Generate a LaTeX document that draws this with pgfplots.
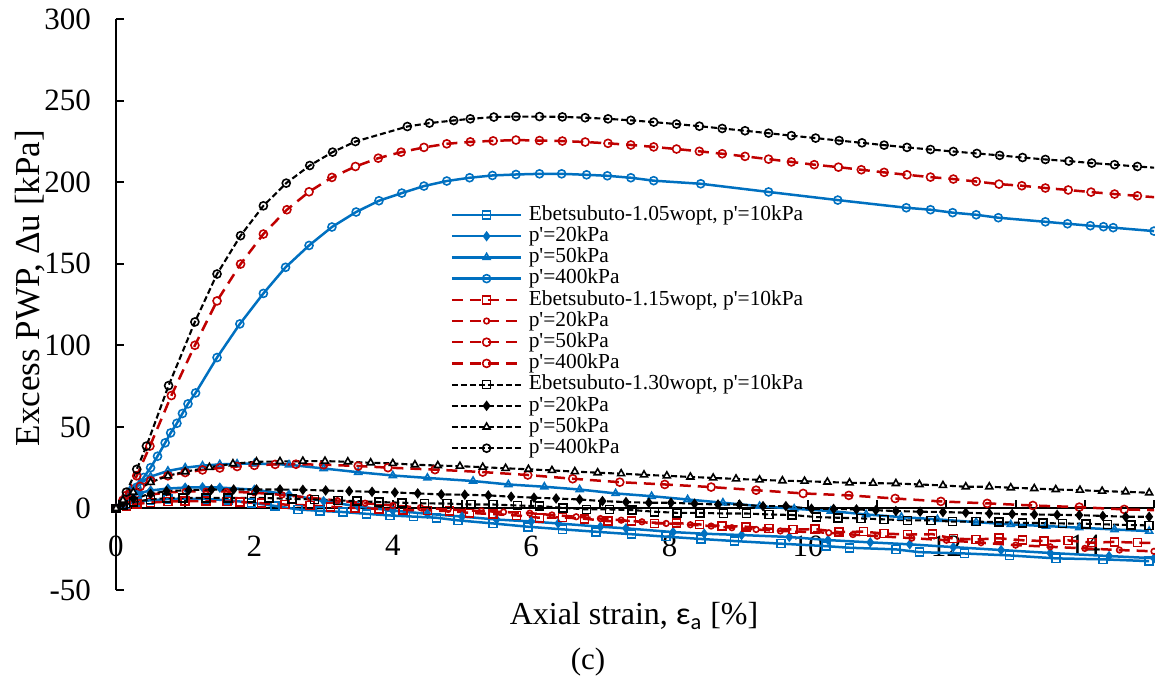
\documentclass[border=0pt]{standalone}
\usepackage{pgfplots}
\pgfplotsset{compat=1.18}
\usepackage{fontspec}
\setmainfont{Liberation Serif}
\newfontfamily\carlito{Carlito}
\definecolor{bl}{HTML}{0070C0}
\definecolor{rd}{HTML}{C00000}
\newcommand\q{\textquotesingle}
\pgfplotsset{
  blS/.style={color=bl, line width=1.25pt, solid, mark options={solid, fill=white, line width=0.8pt}},
  rdS/.style={color=rd, line width=1.25pt, dash pattern=on 5.5pt off 3.5pt, mark options={solid, fill=white, line width=0.8pt}},
  bkS/.style={color=black, line width=1.05pt, dash pattern=on 3pt off 1.5pt, mark options={solid, fill=white, line width=0.8pt}},
}
\begin{document}
\begin{tikzpicture}
\useasboundingbox (-58pt,-46pt) rectangle (519.5pt,295pt);
\begin{axis}[
  scale only axis, width=519pt, height=285.5pt,
  xmin=0, xmax=15, ymin=-50, ymax=300,
  axis y line=left, axis x line=middle,
  axis line style={line width=1pt, -},
  hide obscured x ticks=false, hide obscured y ticks=false,
  xtick={0,2,...,14}, minor xtick={1,3,...,15},
  ytick={-50,0,50,...,300},
  xtick align=inside, ytick align=inside,
  major tick length=4pt, minor tick length=4pt,
  tick style={line width=1pt, black},
  ticklabel style={font=\fontsize{15.5}{16}\selectfont},
  /pgf/number format/assume math mode=true,
  xticklabel style={yshift=-10pt},
  yticklabel style={xshift=-9pt},
  legend cell align=left,
  legend style={draw=none, fill=none, at={(rel axis cs:0.322,0.676)}, anchor=north west,
    font=\fontsize{10.7}{10.7}\selectfont, row sep=0pt, inner sep=0pt, column sep=2.5pt,
    nodes={inner sep=0.6pt, text height=7.3pt, text depth=2.1pt}},
  legend image code/.code={\draw[mark repeat=2,mark phase=2] plot coordinates {(0cm,0cm) (0.61cm,0cm) (1.22cm,0cm)};},
  clip=true,
]
% ---- blue, 1.05wopt ----
\addplot[blS, mark=square, mark size=2pt] coordinates {
(0,0) (0.15,2.5) (0.3,4) (0.5,5) (0.75,5.7) (0.97,6) (1.3,5.8) (1.62,5) (1.96,3.5) (2.3,1.5) (2.63,-0.6) (2.95,-1.5) (3.28,-2.2) (3.62,-3.3) (3.96,-4.3) (4.3,-5) (4.63,-5.7) (4.94,-7.3) (5.45,-9.2) (5.95,-11.2) (6.45,-12.8) (6.94,-14.3) (7.45,-15.8) (7.95,-17.3) (8.45,-18.7) (8.94,-20) (9.61,-21.6) (10.26,-23.1) (10.6,-24.1) (11.27,-25.1) (11.61,-26.8) (12.26,-27.6) (12.91,-28.8) (13.58,-30.6) (14.26,-31.2) (14.93,-32.3)};
\addlegendentry{Ebetsubuto-1.05wopt, p\q=10kPa}
\addplot[blS, mark=diamond*, mark size=1.6pt, mark options={solid,fill=bl}] coordinates {
(0,0) (0.1,4) (0.2,7) (0.35,9.5) (0.5,11) (0.75,12.2) (1,12.8) (1.25,13) (1.5,12.8) (2,11.5) (2.5,8.5) (3,4.5) (3.5,1.2) (4,-1.3) (4.5,-3.3) (5,-5) (5.5,-6.8) (6,-8) (6.39,-9.2) (7,-11.2) (7.37,-12.2) (8.05,-14.5) (8.5,-15.5) (9.04,-16.3) (9.73,-17.5) (10.29,-19.4) (10.9,-20.8) (11.47,-22) (12.1,-23.7) (12.79,-25.5) (13.5,-27.3) (14.35,-29.2) (15,-30.5)};
\addlegendentry{p\q=20kPa}
\addplot[blS, mark=triangle, mark size=2pt] coordinates {
(0,0) (0.1,6) (0.2,11) (0.35,16) (0.5,19.5) (0.75,23) (1,25) (1.25,26.2) (1.5,27) (1.75,27.4) (2,27.5) (2.5,26.8) (3,24.5) (3.5,22.2) (4,20.2) (4.5,18.7) (5.16,16.8) (5.67,14.7) (6.19,13.3) (6.70,11.6) (7.22,9.2) (7.74,7.5) (8.26,5.5) (8.77,3.5) (9.30,1.4) (9.80,-0.2) (10.33,-1.6) (10.84,-3.7) (11.35,-5.3) (11.87,-6.7) (12.43,-8.4) (12.93,-9.8) (13.44,-10.8) (13.92,-11.8) (14.43,-12.9) (14.93,-13.9)};
\addlegendentry{p\q=50kPa}
\addplot[blS, mark=o, mark size=2pt] coordinates {
(0,0) (0.1,3) (0.2,8) (0.3,13) (0.4,19) (0.5,25) (0.6,32) (0.71,40.2) (0.79,46.3) (0.88,52.2) (0.96,58.2) (1.04,64.1) (1.15,70.8) (1.46,92.5) (1.79,113.1) (2.13,131.8) (2.45,147.8) (2.79,161.2) (3.12,172.5) (3.47,181.7) (3.80,188.6) (4.13,193.3) (4.45,197.6) (4.78,200.7) (5.11,202.7) (5.44,204.1) (5.78,204.7) (6.12,205.1) (6.44,205.1) (6.80,204.5) (7.10,203.9) (7.44,202.7) (7.77,200.9) (8.45,199) (9.43,194) (10.43,189) (11.42,184.3) (11.77,183.1) (12.09,181.3) (12.43,180) (12.75,178.2) (13.43,175.7) (13.75,174.5) (14.08,173.3) (14.27,172.7) (14.41,172.1) (15,170)};
\addlegendentry{p\q=400kPa}
% ---- red, 1.15wopt ----
\addplot[rdS, mark=square, mark size=2pt] coordinates {
(0,0) (0.15,1.5) (0.3,2.8) (0.5,3.6) (0.75,4.2) (1,4.5) (1.3,4.5) (1.6,4.2) (1.79,3.9) (2.1,3.2) (2.44,2.4) (2.80,1.8) (3.1,1) (3.45,0.3) (3.8,-0.3) (4.15,-0.9) (4.5,-1.2) (4.82,-1.6) (5.11,-2.7) (5.45,-3.5) (5.79,-4.3) (6.12,-5.7) (6.45,-5.5) (6.77,-6.3) (7.11,-7.8) (7.45,-7.6) (7.78,-9.2) (8.1,-9.0) (8.43,-9.8) (8.76,-10.8) (9.1,-11.2) (9.44,-12.4) (9.78,-12.9) (10.1,-12.7) (10.45,-14.5) (10.8,-14.2) (11.1,-15.4) (11.44,-16) (11.8,-15.8) (12.1,-18.5) (12.43,-19) (12.76,-18.3) (13.1,-19.5) (13.41,-20) (13.76,-19.6) (14.1,-21) (14.43,-20.5) (14.76,-21) (15.1,-21.3)};
\addlegendentry{Ebetsubuto-1.15wopt, p\q=10kPa}
\addplot[rdS, mark=o, mark size=1.4pt] coordinates {
(0,0) (0.1,3) (0.25,6) (0.5,8.5) (0.75,9.8) (1,10.4) (1.3,10.6) (1.6,10.4) (2,9.6) (2.4,8.3) (2.8,6.6) (3.2,4.8) (3.6,3.2) (4,1.8) (4.4,0.5) (4.8,-0.6) (5.28,-1.6) (5.6,-2.2) (5.98,-2.9) (6.3,-4) (6.65,-5.1) (7.0,-6.2) (7.30,-7.2) (7.6,-8.2) (7.95,-9.2) (8.3,-10) (8.60,-10.8) (8.9,-11.8) (9.25,-12.9) (9.6,-13.8) (10.3,-14.9) (10.65,-16) (11,-17) (11.5,-18.2) (12,-19.5) (12.5,-21) (13,-22.5) (13.5,-23.5) (14,-24.5) (14.5,-25.5) (15,-26.3)};
\addlegendentry{p\q=20kPa}
\addplot[rdS, mark=o, mark size=2pt] coordinates {
(0,0) (0.1,5) (0.2,9) (0.35,13.5) (0.5,17) (0.75,20) (1,22) (1.25,23.6) (1.5,24.8) (1.75,25.7) (2,26.4) (2.3,27) (2.6,27.1) (3,26.8) (3.5,26) (3.93,25) (4.61,23.8) (5.3,22.3) (5.95,20.5) (6.6,18.2) (7.28,16.1) (7.93,14.7) (8.60,13.1) (9.25,11.2) (9.93,9.2) (10.59,8.0) (11.26,6.1) (11.92,4.3) (12.59,3.1) (13.25,1.8) (13.92,0.8) (14.57,-0.6) (15.2,-1.2)};
\addlegendentry{p\q=50kPa}
\addplot[rdS, mark=o, mark size=2pt] coordinates {
(0,0) (0.15,8) (0.3,20) (0.49,38.2) (0.80,69.2) (1.14,100) (1.46,127.2) (1.80,149.8) (2.13,168.2) (2.47,183.1) (2.79,194.1) (3.12,202.9) (3.46,209.6) (3.79,214.7) (4.12,218.4) (4.45,221.3) (4.78,223.5) (5.12,224.7) (5.45,225.3) (5.78,225.8) (6.12,225.5) (6.45,225.2) (6.78,224.6) (7.11,223.8) (7.44,222.8) (7.77,221.6) (8.1,220.3) (8.43,218.9) (8.76,217.4) (9.09,215.8) (9.43,214.1) (9.76,212.4) (10.09,210.7) (10.44,209.2) (10.77,207.6) (11.10,206) (11.43,204.5) (11.77,203.1) (12.10,201.9) (12.43,200.4) (12.76,198.8) (13.09,197.8) (13.43,196.4) (13.76,195.2) (14.09,193.9) (14.43,192.7) (14.76,191.6) (15.09,190.5)};
\addlegendentry{p\q=400kPa}
% ---- black, 1.30wopt ----
\addplot[bkS, mark=square, mark size=2pt] coordinates {
(0,0) (0.1,2) (0.25,4) (0.5,5.5) (0.73,6.3) (0.97,6.5) (1.30,6.5) (1.62,6.5) (1.96,6.5) (2.21,6.3) (2.54,5.9) (2.87,5.5) (3.21,4.9) (3.48,4.5) (3.80,3.9) (4.13,3.5) (4.46,3.1) (4.78,3.0) (5.13,2.4) (5.45,2.4) (5.80,1.8) (6.12,1.4) (6.46,0.4) (6.80,-0.6) (7.13,-0.6) (7.46,-1.0) (7.78,-2.0) (8.11,-2.7) (8.44,-2.7) (8.78,-3.1) (9.11,-3.1) (9.44,-3.7) (9.77,-4.0) (10.12,-5.3) (10.43,-5.7) (10.77,-6.1) (11.10,-6.7) (11.44,-7.3) (11.78,-7.3) (12.09,-8.1) (12.43,-8.1) (12.76,-8.4) (13.10,-8.8) (13.4,-9.0) (13.68,-9.2) (14.02,-9.4) (14.33,-9.8) (14.67,-10.2) (14.93,-10.4)};
\addlegendentry{Ebetsubuto-1.30wopt, p\q=10kPa}
\addplot[bkS, mark=diamond*, mark size=1.8pt, mark options={solid,fill=black}] coordinates {
(0,0) (0.1,3) (0.25,6) (0.5,9) (0.73,10.6) (1.05,11.2) (1.38,11.6) (1.7,11.6) (2.03,11.6) (2.37,11.6) (2.70,11.4) (3.03,11.0) (3.37,10.6) (3.7,10.2) (4.03,9.8) (4.36,9.2) (4.70,8.6) (5.04,8.4) (5.38,8.0) (5.71,7.2) (6.04,6.6) (6.36,6.1) (6.70,5.5) (7.03,4.5) (7.37,3.9) (7.70,3.5) (8.02,3.5) (8.36,2.9) (8.70,2.4) (9.01,2.4) (9.35,1.4) (9.68,1.4) (10.05,-0.2) (10.37,-0.3) (10.7,-0.6) (10.98,-1.1) (11.27,-1.6) (11.62,-2) (11.95,-2.2) (12.28,-2.6) (12.62,-3.1) (12.95,-3.4) (13.27,-3.7) (13.6,-3.9) (13.92,-4.1) (14.26,-4.6) (14.59,-5.1) (14.93,-5.1)};
\addlegendentry{p\q=20kPa}
\addplot[bkS, mark=triangle*, mark size=2pt] coordinates {
(0,0) (0.1,5) (0.25,10) (0.5,16) (0.75,20) (1,22.5) (1.35,25.2) (1.69,27.4) (2.03,28.6) (2.37,28.8) (2.7,29) (3.02,29) (3.35,28.6) (3.68,28) (4.0,27.6) (4.32,26.8) (4.65,26.3) (4.97,25.9) (5.3,25.3) (5.63,24.6) (5.96,24) (6.3,23.3) (6.63,22.6) (6.96,21.9) (7.3,21.3) (7.63,20.6) (7.96,20) (8.3,19.3) (8.63,18.7) (8.96,18.1) (9.3,17.5) (9.63,17) (9.95,16.7) (10.28,16.2) (10.6,15.7) (10.94,15.5) (11.27,15.3) (11.61,14.7) (11.95,14.1) (12.28,13.3) (12.62,13.3) (12.93,12.7) (13.27,12.2) (13.58,11.6) (13.93,11.2) (14.25,10.6) (14.59,10.2) (14.93,9.6)};
\addlegendentry{p\q=50kPa}
\addplot[bkS, mark=o, mark size=2pt] coordinates {
(0,0) (0.15,10) (0.3,24) (0.44,38.2) (0.76,75.3) (1.14,114.3) (1.46,143.7) (1.80,167.2) (2.13,185.5) (2.46,199.4) (2.80,210.2) (3.13,218.4) (3.46,224.9) (4.21,234.1) (4.53,236.2) (4.88,237.8) (5.12,238.8) (5.46,239.9) (5.78,240.2) (6.12,240.2) (6.45,240) (6.78,239.5) (7.11,238.8) (7.44,237.9) (7.77,236.8) (8.1,235.6) (8.43,234.3) (8.76,232.9) (9.09,231.5) (9.43,230) (9.76,228.5) (10.11,227) (10.45,225.5) (10.78,224.1) (11.10,222.7) (11.43,221.3) (11.77,220) (12.10,218.8) (12.44,217.6) (12.77,216.4) (13.10,215.1) (13.43,213.9) (13.77,212.9) (14.10,211.7) (14.43,210.7) (14.76,209.6) (15.09,208.6)};
\addlegendentry{p\q=400kPa}
\end{axis}
\node[rotate=90, font=\fontsize{17.5}{20}\selectfont] at (-43pt,151pt) {Excess PWP, Δu [kPa]};
\node[font=\fontsize{16}{18}\selectfont] at (259pt,-13pt) {Axial strain, {\carlito ε\textsubscript{a}} [\%]};
\node[font=\fontsize{15.5}{18}\selectfont] at (236pt,-36pt) {(c)};
\end{tikzpicture}
\end{document}
